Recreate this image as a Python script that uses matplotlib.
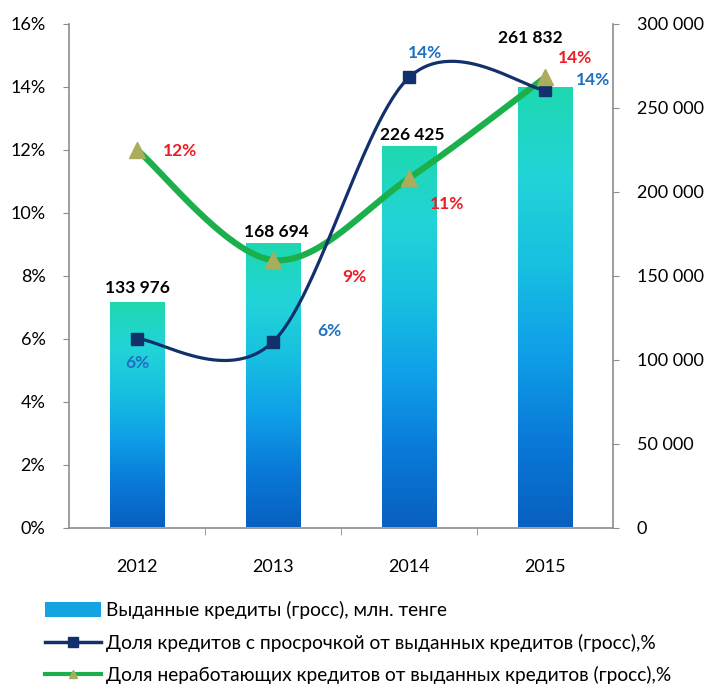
import matplotlib
matplotlib.use('Agg')
import matplotlib.pyplot as plt
import numpy as np
from matplotlib.colors import LinearSegmentedColormap
from matplotlib.patches import Patch
from matplotlib.lines import Line2D
from matplotlib.ticker import FuncFormatter, FixedLocator

years = ['2012', '2013', '2014', '2015']
issued_loans = [133976, 168694, 226425, 261832]
overdue_share = [6.0, 5.9, 14.3, 13.9]
npl_share = [12.0, 8.5, 11.1, 14.3]
overdue_labels = ['6%', '6%', '14%', '14%']
npl_labels = ['12%', '9%', '11%', '14%']
legend_labels = [
    'Выданные кредиты (гросс), млн. тенге',
    'Доля кредитов с просрочкой от выданных кредитов (гросс),%',
    'Доля неработающих кредитов от выданных кредитов (гросс),%',
]

NAVY = '#12306c'
GREEN = '#1cb04c'
OLIVE = '#a9ad5c'
LBL_BLUE = '#1f70c1'
LBL_RED = '#ee1c25'
SPINE = '#8c8c8c'

plt.rcParams['font.family'] = ['Lato', 'DejaVu Sans']

bar_cmap = LinearSegmentedColormap.from_list(
    'bars', ['#0860c0', '#0a7ad8', '#0fa0e8', '#18c0e0', '#22d4d8', '#1ed8b0'])


def smooth(xs, ys, n=60):
    # excel-like smoothed line (catmull-rom / hermite)
    pts = np.column_stack([xs, ys]).astype(float)
    k = len(pts)
    tang = np.zeros_like(pts)
    for i in range(k):
        a = pts[max(i - 1, 0)]
        b = pts[min(i + 1, k - 1)]
        tang[i] = (b - a) / 2
    out = []
    t = np.linspace(0, 1, n)[:, None]
    h00 = 2 * t**3 - 3 * t**2 + 1
    h10 = t**3 - 2 * t**2 + t
    h01 = -2 * t**3 + 3 * t**2
    h11 = t**3 - t**2
    for i in range(k - 1):
        seg = h00 * pts[i] + h10 * tang[i] + h01 * pts[i + 1] + h11 * tang[i + 1]
        out.append(seg)
    out = np.vstack(out)
    return out[:, 0], out[:, 1]


fig = plt.figure(figsize=(7.07, 6.87), dpi=100)
ax = fig.add_axes([69 / 707, 1 - 527.5 / 687, 544 / 707, 503.5 / 687])
ax_pct = ax.twinx()

x = np.arange(len(years))
bar_w = 0.4

# bars with vertical gradient, on the volume (right) axis
grad = np.linspace(0, 1, 256)[:, None]
for xi, val in zip(x, issued_loans):
    ax.imshow(grad, extent=[xi - bar_w / 2, xi + bar_w / 2, 0, val],
              origin='lower', aspect='auto', cmap=bar_cmap, zorder=2)

ax.set_xlim(-0.5, len(years) - 0.5)
ax.set_ylim(0, 300000)
ax.yaxis.tick_right()
ax.yaxis.set_major_locator(FixedLocator(np.arange(0, 300001, 50000)))
ax.yaxis.set_major_formatter(FuncFormatter(lambda v, p: f'{int(v):,}'.replace(',', ' ')))
ax.tick_params(axis='y', right=True, left=False, length=4, color=SPINE,
               labelsize=13, pad=13, labelcolor='black')
ax.set_xticks(x)
ax.set_xticklabels(years)
ax.set_xticks(x[:-1] + 0.5, minor=True)
ax.tick_params(axis='x', which='major', length=0, pad=23, labelsize=13)
ax.tick_params(axis='x', which='minor', length=5, color=SPINE)
for s in ax.spines.values():
    s.set_visible(False)

# percentage lines on the left axis
ax_pct.set_ylim(0, 16)
ax_pct.yaxis.tick_left()
ax_pct.yaxis.set_major_locator(FixedLocator(np.arange(0, 17, 2)))
ax_pct.yaxis.set_major_formatter(FuncFormatter(lambda v, p: f'{int(v)}%'))
ax_pct.tick_params(axis='y', left=True, right=False, length=4, color=SPINE,
                   labelsize=13, pad=13)
ax_pct.spines['top'].set_visible(False)
for side in ['left', 'right', 'bottom']:
    ax_pct.spines[side].set_color(SPINE)
    ax_pct.spines[side].set_linewidth(1.2)

gx, gy = smooth(x, npl_share)
nx, ny = smooth(x, overdue_share)
ax_pct.plot(gx, gy, color=GREEN, lw=4.5, solid_capstyle='round', zorder=3)
ax_pct.plot(nx, ny, color=NAVY, lw=2.3, solid_capstyle='round', zorder=4)
ax_pct.plot(x, overdue_share, ls='none', marker='s', ms=9, color=NAVY, zorder=5)
ax_pct.plot(x, npl_share, ls='none', marker='^', ms=11, color=OLIVE, zorder=6)

lbl_font = dict(fontsize=12.5, fontweight='bold', ha='center', va='center',
                textcoords='offset pixels', zorder=10)

bar_offsets = [(0, 15), (3, 12), (3, 12), (-15, 50)]
for xi, val, off in zip(x, issued_loans, bar_offsets):
    ax_pct.annotate(f'{val:,}'.replace(',', ' '), xy=(xi, val), xycoords=ax.transData,
                    xytext=off, color='black', **lbl_font)

overdue_offsets = [(0, -24), (56, 11), (16, 24), (48, 10)]
for xi, val, txt, off in zip(x, overdue_share, overdue_labels, overdue_offsets):
    ax_pct.annotate(txt, xy=(xi, val), xytext=off, color=LBL_BLUE, **lbl_font)

npl_offsets = [(43, -1), (81, -17), (38, -26), (30, 19)]
for xi, val, txt, off in zip(x, npl_share, npl_labels, npl_offsets):
    ax_pct.annotate(txt, xy=(xi, val), xytext=off, color=LBL_RED, **lbl_font)

handles = [
    Patch(facecolor='#14a4e2', edgecolor='none'),
    Line2D([], [], color=NAVY, lw=2.5, marker='s', ms=7),
    Line2D([], [], color=GREEN, lw=3, marker='^', ms=6, markerfacecolor=OLIVE,
           markeredgecolor=OLIVE),
]
fig.legend(handles, legend_labels, loc='upper left',
           bbox_to_anchor=(45 / 707, 1 - 601 / 687), frameon=False,
           prop={'size': 13.8},
           handlelength=2.9, handleheight=0.8, handletextpad=0.3,
           labelspacing=0.75, borderpad=0, borderaxespad=0)

fig.savefig('out.png', dpi=100)
